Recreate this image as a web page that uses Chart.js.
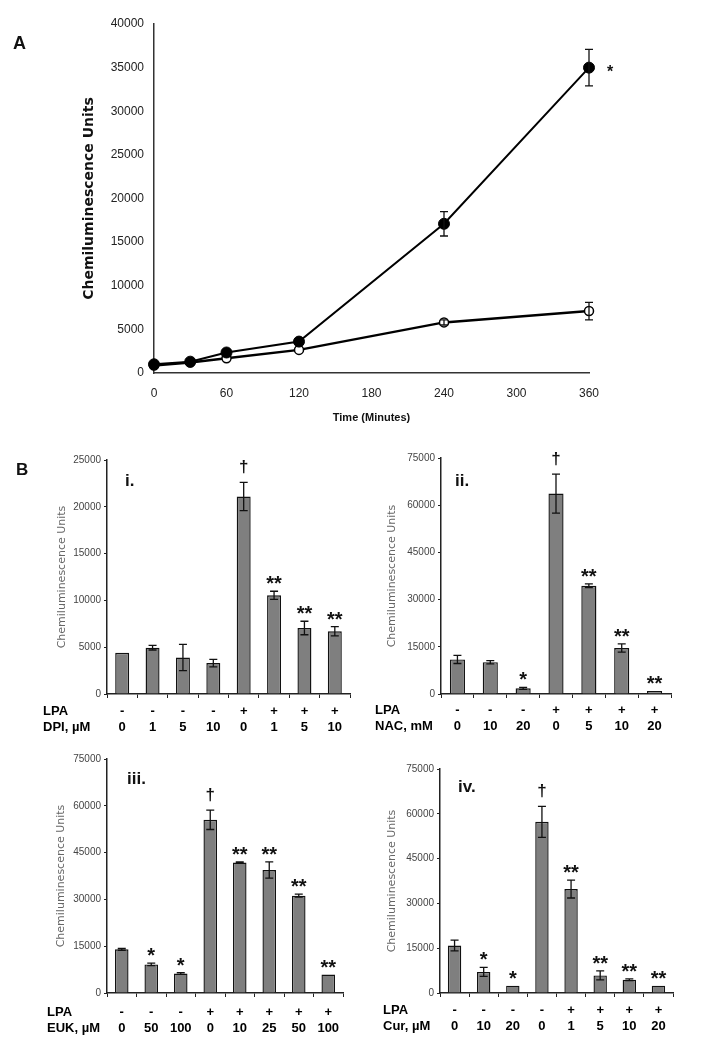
<!DOCTYPE html>
<html>
<head>
<meta charset="utf-8">
<script src="https://cdn.jsdelivr.net/npm/chart.js@4.4.1/dist/chart.umd.min.js"></script>
<style>
  body { margin: 0; background: #fff; width: 705px; height: 1050px; position: relative; overflow: hidden; font-family: 'Liberation Sans', Arial, sans-serif; }
  canvas { position: absolute; }
  .lbl { position: absolute; font-weight: bold; line-height: 1; color: #111; }
</style>
</head>
<body>
<canvas id="chartA" width="705" height="435" style="left:0;top:0"></canvas>
<canvas id="chartI" width="360" height="300" style="left:0;top:440px"></canvas>
<canvas id="chartII" width="355" height="300" style="left:350px;top:440px"></canvas>
<canvas id="chartIII" width="360" height="305" style="left:0;top:740px"></canvas>
<canvas id="chartIV" width="355" height="305" style="left:350px;top:740px"></canvas>

<div class="lbl" style="left:13px;top:34px;font-size:18px">A</div>
<div class="lbl" style="left:16px;top:461px;font-size:17px">B</div>
<div class="lbl" style="left:125px;top:472px;font-size:17px">i.</div>
<div class="lbl" style="left:455px;top:472px;font-size:17px">ii.</div>
<div class="lbl" style="left:127px;top:770px;font-size:17px">iii.</div>
<div class="lbl" style="left:458px;top:778px;font-size:17px">iv.</div>

<script>
// ---- panel A : time course ----
var timeMinutes = [0, 30, 60, 120, 240, 360];
var lpaTime     = [1000, 1300, 2350, 3600, 17100, 35000];
var lpaTimeErr  = [0, 0, 0, 0, 1400, 2100];
var lpaTimeMark = ['', '', '', '', '', '*'];
var ctrlTime    = [850, 1200, 1700, 2650, 5800, 7100];
var ctrlTimeErr = [0, 0, 0, 0, 300, 1000];
var timeTicks   = [0, 60, 120, 180, 240, 300, 360];

// ---- panel B i : DPI ----
var dpiLpa    = ['-', '-', '-', '-', '+', '+', '+', '+'];
var dpiDose   = ['0', '1', '5', '10', '0', '1', '5', '10'];
var dpiValues = [4400, 4950, 3900, 3300, 21100, 10550, 7050, 6700];
var dpiErr    = [0, 250, 1400, 400, 1500, 430, 720, 500];
var dpiMarks  = ['', '', '', '', '†', '**', '**', '**'];

// ---- panel B ii : NAC ----
var nacLpa    = ['-', '-', '-', '+', '+', '+', '+'];
var nacDose   = ['0', '10', '20', '0', '5', '10', '20'];
var nacValues = [11000, 10100, 1800, 63700, 34400, 14600, 950];
var nacErr    = [1300, 500, 300, 6200, 600, 1300, 0];
var nacMarks  = ['', '', '*', '†', '**', '**', '**'];

// ---- panel B iii : EUK ----
var eukLpa    = ['-', '-', '-', '+', '+', '+', '+', '+'];
var eukDose   = ['0', '50', '100', '0', '10', '25', '50', '100'];
var eukValues = [14000, 9150, 6250, 55500, 41800, 39400, 31200, 5900];
var eukErr    = [300, 400, 300, 3100, 200, 2600, 500, 0];
var eukMarks  = ['', '*', '*', '†', '**', '**', '**', '**'];

// ---- panel B iv : curcumin ----
var curLpa    = ['-', '-', '-', '-', '+', '+', '+', '+'];
var curDose   = ['0', '10', '20', '0', '1', '5', '10', '20'];
var curValues = [15900, 7050, 2450, 57300, 34800, 5900, 4450, 2450];
var curErr    = [1800, 1500, 0, 5200, 3000, 1500, 300, 0];
var curMarks  = ['', '*', '*', '†', '**', '**', '**', '**'];

var FONT = "'Liberation Sans', Arial, sans-serif";

// error bars + significance marks
var errorBars = {
  id: 'errorBars',
  afterDatasetsDraw: function(chart, args, opts) {
    var ctx = chart.ctx;
    var yScale = chart.scales.y;
    var cap = opts.cap || 4;
    chart.data.datasets.forEach(function(ds, di) {
      if (!ds.errors) return;
      var meta = chart.getDatasetMeta(di);
      ctx.save();
      ctx.strokeStyle = '#111';
      ctx.lineWidth = 1.3;
      meta.data.forEach(function(el, i) {
        var raw = ds.data[i];
        var v = typeof raw === 'object' ? raw.y : raw;
        var e = ds.errors[i] || 0;
        var yTop = yScale.getPixelForValue(v + e);
        var yBot = yScale.getPixelForValue(v - e);
        if (e > 0) {
          ctx.beginPath();
          ctx.moveTo(el.x, yTop); ctx.lineTo(el.x, yBot);
          ctx.moveTo(el.x - cap, yTop); ctx.lineTo(el.x + cap, yTop);
          ctx.moveTo(el.x - cap, yBot); ctx.lineTo(el.x + cap, yBot);
          ctx.stroke();
        }
        var m = ds.marks && ds.marks[i];
        if (!m) return;
        ctx.fillStyle = '#111';
        ctx.textAlign = 'center';
        ctx.textBaseline = 'alphabetic';
        if (opts.side) {
          ctx.font = 'bold 16px ' + FONT;
          ctx.fillText(m, el.x + 21, el.y + 9);
        } else if (m === '†') {
          ctx.font = 'bold 17px ' + FONT;
          ctx.fillText(m, el.x, yTop - 10);
        } else {
          ctx.font = 'bold 20px ' + FONT;
          ctx.fillText(m, el.x, yTop - 1);
        }
      });
      ctx.restore();
    });
  }
};

// "LPA" / dose headers on the left of the tick rows
var rowHeads = {
  id: 'rowHeads',
  afterDraw: function(chart, args, opts) {
    if (!opts.text) return;
    var ctx = chart.ctx;
    var xs = chart.scales.x;
    var base = xs.top + xs.options.grid.tickLength + xs.options.ticks.padding;
    ctx.save();
    ctx.fillStyle = '#000';
    ctx.font = 'bold 13px ' + FONT;
    ctx.textAlign = 'left';
    ctx.textBaseline = 'middle';
    opts.text.forEach(function(t, k) {
      ctx.fillText(t, opts.x, base + 16 * (k + 0.5));
    });
    ctx.restore();
  }
};

Chart.register(errorBars, rowHeads);

function plain(v) { return String(v); }

// panel A
new Chart(document.getElementById('chartA'), {
  type: 'line',
  data: {
    datasets: [{
      data: timeMinutes.map(function(t, i) { return {x: t, y: lpaTime[i]}; }),
      errors: lpaTimeErr,
      marks: lpaTimeMark,
      borderColor: '#000', borderWidth: 2, tension: 0, clip: false,
      pointRadius: 5.5, pointBackgroundColor: '#000', pointBorderColor: '#000', pointBorderWidth: 1
    }, {
      data: timeMinutes.map(function(t, i) { return {x: t, y: ctrlTime[i]}; }),
      errors: ctrlTimeErr,
      borderColor: '#000', borderWidth: 2.5, tension: 0, clip: false,
      pointRadius: 4.5, pointBackgroundColor: '#fff', pointBorderColor: '#000', pointBorderWidth: 1.5
    }]
  },
  options: {
    responsive: false, animation: false, devicePixelRatio: 1,
    layout: { padding: { left: 0, top: 24, right: 116, bottom: 0 } },
    plugins: { legend: { display: false }, tooltip: { enabled: false }, errorBars: { cap: 4, side: true } },
    scales: {
      x: {
        type: 'linear', min: 0, max: 360,
        afterBuildTicks: function(s) { s.ticks = timeTicks.map(function(v) { return {value: v}; }); },
        ticks: { color: '#222', padding: 13, font: { family: FONT, size: 12 }, callback: plain },
        grid: { display: false, drawTicks: false },
        border: { display: true, color: '#333', width: 1.5 },
        title: { display: true, text: 'Time (Minutes)', color: '#111', font: { family: FONT, size: 11, weight: 'bold' }, padding: { top: 0, bottom: 10 } },
        afterFit: function(s) { s.height = 62; }
      },
      y: {
        min: 0, max: 40000,
        ticks: { stepSize: 5000, color: '#222', padding: 10, font: { family: FONT, size: 12 }, callback: plain },
        grid: { display: false, drawTicks: false },
        border: { display: true, color: '#333', width: 1.5 },
        title: { display: true, text: 'Chemiluminescence Units', color: '#111', font: { family: 'DejaVu Sans', size: 14, weight: 'bold' }, padding: { top: 81, bottom: 0 } },
        afterFit: function(s) { s.width = 154; }
      }
    }
  }
});

function barPanel(id, lpa, dose, values, errs, marks, doseName, box) {
  return new Chart(document.getElementById(id), {
    type: 'bar',
    data: {
      labels: lpa.map(function(l, i) { return [l, dose[i]]; }),
      datasets: [{
        data: values, errors: errs, marks: marks,
        backgroundColor: '#7f7f7f', borderColor: '#111', borderWidth: 1.4,
        barPercentage: 0.46, categoryPercentage: 1
      }]
    },
    options: {
      responsive: false, animation: false, devicePixelRatio: 1,
      layout: { padding: { left: 0, top: box.top, right: box.right, bottom: 0 } },
      plugins: {
        legend: { display: false }, tooltip: { enabled: false },
        errorBars: { cap: 4 },
        rowHeads: { text: ['LPA', doseName], x: box.headX }
      },
      scales: {
        x: {
          grid: { display: true, drawOnChartArea: false, drawTicks: true, tickLength: 4, color: '#222', offset: true },
          border: { display: true, color: '#222', width: 1.5 },
          ticks: { color: '#000', padding: box.tickPad, autoSkip: false, maxRotation: 0, font: { family: FONT, size: 13, weight: 'bold', lineHeight: 1.23 } },
          afterFit: function(s) { s.height = box.xHeight; }
        },
        y: {
          min: 0, max: box.yMax,
          ticks: { stepSize: box.yMax / 5, color: '#444', padding: 3, font: { family: FONT, size: 10 }, callback: plain },
          grid: { display: true, drawOnChartArea: false, drawTicks: true, tickLength: 3, color: '#222' },
          border: { display: true, color: '#222', width: 1.5 },
          title: { display: true, text: 'Chemiluminescence Units', color: '#666', font: { family: 'DejaVu Sans', size: 11 }, padding: { top: box.titlePad, bottom: 0 } },
          afterFit: function(s) { s.width = box.yWidth; }
        }
      }
    }
  });
}

barPanel('chartI', dpiLpa, dpiDose, dpiValues, dpiErr, dpiMarks, 'DPI, µM',
  { yMax: 25000, yWidth: 107, top: 20, right: 10, xHeight: 46, tickPad: 5, headX: 43, titlePad: 56 });
barPanel('chartII', nacLpa, nacDose, nacValues, nacErr, nacMarks, 'NAC, mM',
  { yMax: 75000, yWidth: 91, top: 18, right: 34, xHeight: 46, tickPad: 4, headX: 25, titlePad: 36 });
barPanel('chartIII', eukLpa, eukDose, eukValues, eukErr, eukMarks, 'EUK, µM',
  { yMax: 75000, yWidth: 107, top: 19, right: 17, xHeight: 52, tickPad: 7, headX: 47, titlePad: 55 });
barPanel('chartIV', curLpa, curDose, curValues, curErr, curMarks, 'Cur, µM',
  { yMax: 75000, yWidth: 90, top: 29, right: 32, xHeight: 52, tickPad: 5, headX: 33, titlePad: 36 });
</script>
</body>
</html>
